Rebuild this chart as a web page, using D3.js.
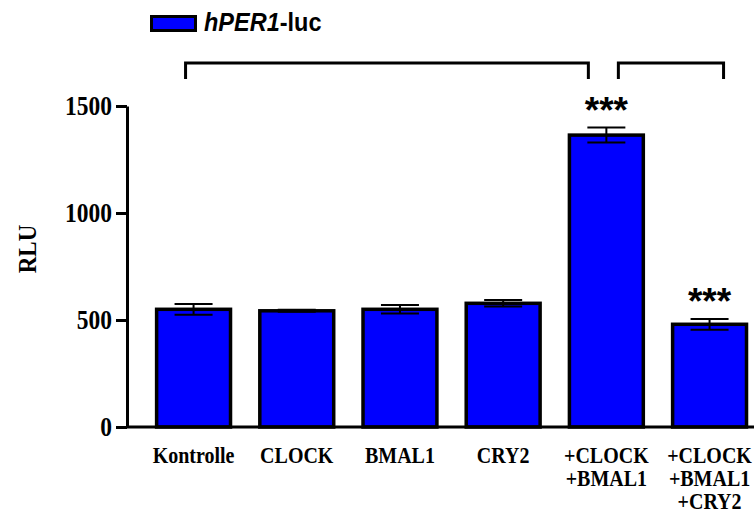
<!DOCTYPE html>
<html>
<head>
<meta charset="utf-8">
<script src="https://cdn.jsdelivr.net/npm/d3@7"></script>
<style>
  html, body { margin: 0; padding: 0; background: #fff; }
  svg { display: block; }
</style>
</head>
<body>
<svg id="chart" width="754" height="513"></svg>
<script>
// Luciferase reporter activity (RLU) per transfection condition
const categories = ["Kontrolle", "CLOCK", "BMAL1", "CRY2", "+CLOCK\n+BMAL1", "+CLOCK\n+BMAL1\n+CRY2"];
const means = [550, 543, 550, 578, 1364, 480];
const errors = [25, 5, 20, 15, 35, 25];
const yTicks = [0, 500, 1000, 1500];
const significance = ["", "", "", "", "***", "***"];
const seriesName = ["hPER1", "-luc"];

const svg = d3.select("#chart");
const W = 754, H = 513;
const serif = "'Liberation Serif', 'Times New Roman', serif";
const sans = "'Liberation Sans', Arial, sans-serif";
const blue = "#0000ff";
const barStroke = 3.5;
const stretch = 1.12; // glyphs are drawn slightly taller than wide

const x0 = 127, yBase = 427, yTop = 106;

const x = d3.scaleBand()
  .domain(categories)
  .range([x0, x0 + 103.2 * 6.29])
  .paddingInner(0.25)
  .paddingOuter(0.27);

const y = d3.scaleLinear().domain([0, 1500]).range([yBase, yTop]);

// Bars
svg.append("g").selectAll("rect")
  .data(categories)
  .join("rect")
  .attr("x", (d) => x(d) + barStroke / 2)
  .attr("width", x.bandwidth() - barStroke)
  .attr("y", (d, i) => y(means[i]))
  .attr("height", (d, i) => yBase - y(means[i]))
  .attr("fill", blue)
  .attr("stroke", "#000")
  .attr("stroke-width", barStroke);

// Error bars (mean ± SEM)
const capHalf = 19;
const eb = svg.append("g").attr("stroke", "#000").attr("stroke-width", 2);
categories.forEach((c, i) => {
  const cx = x(c) + x.bandwidth() / 2;
  const hi = y(means[i] + errors[i]), lo = y(means[i] - errors[i]);
  eb.append("line").attr("x1", cx).attr("x2", cx).attr("y1", hi).attr("y2", lo);
  eb.append("line").attr("x1", cx - capHalf).attr("x2", cx + capHalf).attr("y1", hi).attr("y2", hi);
  eb.append("line").attr("x1", cx - capHalf).attr("x2", cx + capHalf).attr("y1", lo).attr("y2", lo);
});

// Y axis
const yAxis = svg.append("g")
  .attr("transform", `translate(${x0},0)`)
  .call(d3.axisLeft(y).tickValues(yTicks).tickFormat(d3.format("d"))
    .tickSize(11).tickPadding(4).tickSizeOuter(0));
yAxis.select(".domain").attr("stroke", "#000").attr("stroke-width", 3);
yAxis.selectAll(".tick line").attr("stroke", "#000").attr("stroke-width", 3);
yAxis.selectAll(".tick text")
  .attr("fill", "#000")
  .attr("transform", `scale(1,${stretch})`)
  .style("font-family", serif)
  .style("font-weight", "bold")
  .style("font-size", "23.5px");

// X axis baseline
svg.append("line")
  .attr("x1", x0).attr("x2", W)
  .attr("y1", yBase).attr("y2", yBase)
  .attr("stroke", "#000").attr("stroke-width", 3);

// Category labels, one text per line
const lab = svg.append("g")
  .style("font-family", serif)
  .style("font-weight", "bold")
  .style("font-size", "20px")
  .attr("text-anchor", "middle");
categories.forEach((c) => {
  const cxl = x(c) + x.bandwidth() / 2;
  c.split("\n").forEach((line, j) => {
    lab.append("text")
      .attr("transform", `translate(${cxl},${463 + j * 22.8}) scale(1,${stretch})`)
      .text(line);
  });
});

// Y axis title
svg.append("text")
  .attr("transform", `translate(36,249) rotate(-90) scale(1,${stretch})`)
  .attr("text-anchor", "middle")
  .style("font-family", serif)
  .style("font-weight", "bold")
  .style("font-size", "23px")
  .text("RLU");

// Significance stars
svg.append("g").selectAll("text")
  .data(categories)
  .join("text")
  .attr("x", (d) => x(d) + x.bandwidth() / 2)
  .attr("y", (d, i) => y(means[i] + errors[i]) - 5)
  .attr("text-anchor", "middle")
  .style("font-family", sans)
  .style("font-weight", "bold")
  .style("font-size", "37px")
  .text((d, i) => significance[i]);

// Comparison brackets
const cx = (i) => x(categories[i]) + x.bandwidth() / 2;
const brTop = 63, brDrop = 16;
const brackets = [
  [cx(0) - 8, cx(4) - 18],
  [cx(4) + 12, cx(5) + 14]
];
svg.append("g").selectAll("path")
  .data(brackets)
  .join("path")
  .attr("d", (b) => `M${b[0]},${brTop + brDrop}V${brTop}H${b[1]}V${brTop + brDrop}`)
  .attr("fill", "none")
  .attr("stroke", "#000")
  .attr("stroke-width", 3);

// Legend
const lg = svg.append("g");
lg.append("rect")
  .attr("x", 151.5).attr("y", 16.5)
  .attr("width", 44).attr("height", 14)
  .attr("fill", blue).attr("stroke", "#000").attr("stroke-width", 3);
const lt = lg.append("text")
  .attr("transform", `translate(204,31) scale(1,${stretch})`)
  .style("font-family", sans)
  .style("font-weight", "bold")
  .style("font-size", "23.5px");
lt.append("tspan").style("font-style", "italic").text(seriesName[0]);
lt.append("tspan").text(seriesName[1]);
</script>
</body>
</html>
